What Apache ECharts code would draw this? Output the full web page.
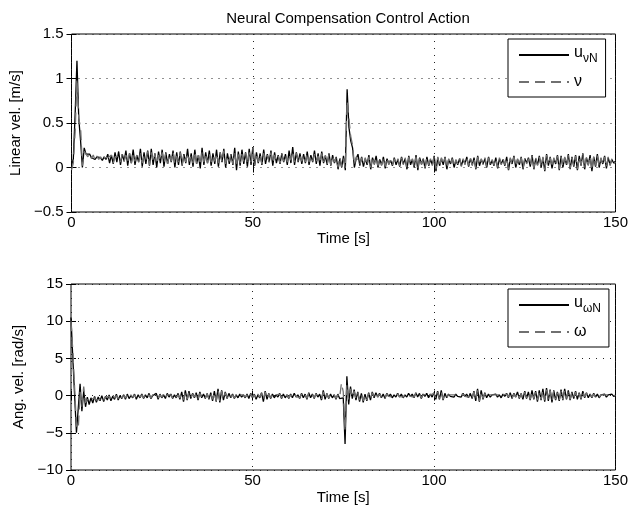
<!DOCTYPE html>
<html>
<head>
<meta charset="utf-8">
<script src="https://cdn.jsdelivr.net/npm/echarts@6/dist/echarts.min.js"></script>
<style>
html,body{margin:0;padding:0;background:#fff;}
#c{width:631px;height:512px;}
</style>
</head>
<body>
<div id="c"></div>
<script>
// sample step [s]
const dt = 0.5;
const xTicks = [0, 50, 100, 150];
const yTicksTop = [-0.5, 0, 0.5, 1, 1.5];
const yTicksBottom = [-10, -5, 0, 5, 10, 15];

// Linear velocity: neural compensation u_vN (solid) and nu (dashed)
const uvN = [
0.02,0.1,0.6,1.2,0.55,0.3,0.0,0.22,0.15,0.14,0.15,0.11,0.13,0.09,0.12,0.1,0.11,0.08,0.12,0.09,
0.15,0.05,0.14,0.04,0.17,0.06,0.18,0.03,0.15,0.07,0.19,0.02,0.16,0.05,0.2,0.03,0.14,0.06,0.21,0.01,
0.17,0.04,0.19,0.02,0.21,0.03,0.16,0.0,0.18,0.05,0.2,0.01,0.17,0.04,0.15,0.06,0.19,0.0,0.17,0.03,
0.18,0.02,0.15,0.05,0.21,0.03,0.16,0.01,0.2,0.04,0.14,-0.01,0.22,0.03,0.17,0.05,0.19,0.02,0.16,0.04,
0.2,0.01,0.17,0.06,0.21,0.0,0.16,0.04,0.15,0.03,0.22,-0.03,0.18,0.02,0.2,0.04,0.17,0.01,0.21,0.03,
0.23,0.02,0.17,0.05,0.16,0.03,0.2,0.04,0.15,0.06,0.19,0.02,0.17,0.05,0.14,0.04,0.16,0.06,0.15,0.03,
0.19,0.05,0.23,0.03,0.17,0.06,0.16,0.04,0.15,0.05,0.18,0.03,0.14,0.06,0.19,0.04,0.16,0.02,0.18,0.05,
0.13,0.03,0.16,0.02,0.14,0.05,0.12,-0.02,0.1,0.0,0.13,-0.03,0.88,0.45,0.3,0.22,0.0,0.1,0.15,0.02,
0.12,0.01,0.1,0.03,0.14,-0.02,0.11,0.04,0.13,0.0,0.09,0.03,0.12,-0.01,0.1,0.04,0.08,0.02,0.11,0.03,
0.09,0.01,0.12,0.04,0.1,-0.02,0.13,0.03,0.09,0.0,0.14,-0.03,0.11,0.04,0.1,-0.01,0.12,0.02,0.09,0.03,
0.13,-0.04,0.11,0.02,0.1,0.03,0.12,-0.02,0.09,0.04,0.11,0.0,0.08,0.03,0.1,0.02,0.09,0.04,0.12,0.01,
0.1,0.03,0.11,-0.02,0.13,0.02,0.09,0.04,0.1,0.0,0.12,0.03,0.08,0.02,0.11,-0.01,0.1,0.04,0.09,0.02,
0.12,-0.03,0.1,0.04,0.13,0.0,0.09,0.03,0.12,-0.02,0.1,0.05,0.11,0.01,0.14,-0.02,0.1,0.03,0.13,0.0,
0.11,-0.04,0.15,0.02,0.12,-0.01,0.1,0.04,0.14,-0.03,0.13,0.0,0.11,0.03,0.15,-0.02,0.12,0.01,0.14,-0.03,
0.13,0.02,0.16,-0.02,0.11,0.03,0.14,-0.04,0.12,0.01,0.15,0.0,0.1,0.04,0.13,-0.01,0.11,0.03,0.09,0.05,
0.07];

const nu = [
-0.03,0.05,0.4,1.0,0.55,0.45,0.02,0.18,0.17,0.12,0.16,0.1,0.14,0.08,0.13,0.09,0.12,0.07,0.11,0.1,
0.11,0.09,0.14,0.05,0.12,0.1,0.13,0.06,0.15,0.07,0.14,0.06,0.16,0.05,0.15,0.07,0.14,0.06,0.16,0.05,
0.13,0.08,0.18,0.03,0.17,0.07,0.15,0.04,0.14,0.08,0.17,0.05,0.16,0.04,0.15,0.07,0.18,0.04,0.13,0.06,
0.17,0.03,0.15,0.06,0.16,0.07,0.13,0.05,0.18,0.04,0.14,0.03,0.17,0.06,0.16,0.05,0.15,0.06,0.13,0.07,
0.16,0.05,0.17,0.06,0.19,0.04,0.13,0.07,0.15,0.04,0.17,0.01,0.18,0.05,0.15,0.07,0.16,0.04,0.17,0.06,
0.22,0.03,0.16,0.06,0.15,0.04,0.16,0.07,0.14,0.06,0.17,0.05,0.14,0.08,0.13,0.05,0.15,0.07,0.14,0.06,
0.15,0.08,0.18,0.06,0.16,0.07,0.13,0.07,0.14,0.06,0.16,0.06,0.13,0.07,0.15,0.07,0.13,0.05,0.16,0.06,
0.14,0.04,0.15,0.03,0.13,0.06,0.11,0.0,0.12,0.01,0.1,-0.01,0.75,0.55,0.35,0.25,0.03,0.12,0.13,0.03,
0.11,0.03,0.11,0.02,0.12,0.0,0.12,0.03,0.11,0.02,0.1,0.02,0.11,0.01,0.11,0.03,0.09,0.03,0.1,0.04,
0.1,0.02,0.11,0.03,0.11,0.0,0.12,0.04,0.1,0.01,0.12,-0.01,0.12,0.03,0.09,0.0,0.11,0.03,0.1,0.02,
0.12,-0.02,0.12,0.01,0.11,0.04,0.11,-0.01,0.1,0.03,0.1,0.01,0.09,0.04,0.11,0.01,0.1,0.03,0.11,0.02,
0.11,0.02,0.1,-0.01,0.12,0.03,0.1,0.03,0.11,0.01,0.11,0.02,0.09,0.03,0.1,0.0,0.11,0.03,0.1,0.03,
0.11,-0.02,0.11,0.03,0.12,0.01,0.1,0.02,0.11,-0.01,0.11,0.04,0.1,0.02,0.13,-0.01,0.11,0.02,0.12,0.01,
0.12,-0.03,0.14,0.03,0.11,0.0,0.11,0.03,0.13,-0.02,0.12,0.01,0.12,0.02,0.14,-0.01,0.11,0.02,0.13,-0.02,
0.12,0.03,0.15,-0.01,0.12,0.02,0.13,-0.03,0.13,0.02,0.14,0.01,0.11,0.03,0.12,0.0,0.12,0.02,0.1,0.04,
0.06];

// Angular velocity: neural compensation u_wN (solid) and omega (dashed)
const uwN = [
10.5,5,0,-5,-5,1.6,-2.1,0.6,-1.5,-0.2,-1.2,-0.3,-1,-0.1,-0.9,-0.2,-0.7,0,-0.8,-0.1,
-0.6,0.1,-0.7,-0.1,-0.5,0.2,-0.6,0,-0.4,0.1,-0.5,0.2,-0.4,0,-0.3,0.2,-0.5,0.1,-0.3,0.2,
-0.4,0.1,-0.3,0.3,-0.4,0,-0.2,0.3,-0.5,0.2,-0.3,0.1,-0.4,0.3,-0.2,0.2,-0.4,0.1,-0.3,0.3,
-0.5,0.5,-0.8,0.7,-0.6,0.6,-0.4,0.3,-0.3,0.4,-0.6,0.5,-0.3,0.2,-0.4,0.3,-0.5,0.4,-0.7,0.6,
-0.8,0.9,-0.9,0.7,-0.6,0.5,-0.4,0.3,-0.3,0.2,-0.4,0.1,-0.3,0.2,-0.2,0.1,-0.3,0.2,-0.4,0.3,
-0.3,0.2,-0.5,0.1,-0.3,0.4,-0.8,0.6,-0.5,0.3,-0.4,0.2,-0.3,0.1,-0.2,0.3,-0.4,0.2,-0.3,0.1,
-0.4,0.2,-0.3,0.3,-0.2,0.1,-0.4,0.3,-0.3,0.2,-0.5,0.4,-0.3,0.2,-0.4,0.3,-0.2,0.2,-0.6,0.7,
-0.5,0.3,-0.4,0.2,-0.3,0.1,-0.5,0.2,-0.4,-0.3,-0.3,-6.5,2.6,-1.2,1.2,-0.4,0.8,-0.6,0.5,-0.8,
0.3,-0.9,0.2,-0.7,0.4,-0.6,0.5,-0.3,0.4,-0.2,0.3,-0.3,0.2,-0.4,0.3,-0.1,0.2,-0.3,0.1,-0.2,
0.3,-0.2,0.2,-0.3,0.1,-0.2,0.3,-0.1,0.2,-0.3,0.4,-0.2,0.3,-0.4,0.2,-0.1,0.3,-0.3,0.2,-0.2,
0.4,-0.5,0.6,-0.5,0.7,-0.6,0.3,-0.3,0.2,-0.1,0.1,-0.2,0.2,-0.1,0.1,-0.2,0.3,-0.1,0.2,-0.3,
0.3,-0.4,0.6,-0.7,0.9,-0.8,0.7,-0.5,0.4,-0.3,0.2,-0.2,0.1,-0.1,0.2,-0.2,0.1,-0.3,0.2,-0.1,
0.3,-0.3,0.4,-0.4,0.3,-0.2,0.5,-0.4,0.3,-0.5,0.6,-0.4,0.5,-0.6,0.7,-0.5,0.6,-0.8,0.7,-0.6,
0.9,-0.8,1.0,-0.7,0.8,-0.9,0.7,-0.6,0.5,-0.7,0.8,-0.6,0.9,-0.5,0.7,-0.6,0.5,-0.4,0.6,-0.5,
0.4,-0.5,0.6,-0.3,0.4,-0.3,0.2,-0.3,0.3,-0.2,0.2,-0.3,0.1,-0.1,0.2,-0.2,0.1,-0.1,0.2,-0.1,
0];

const omega = [
10,6,1,-4,-4.5,0.5,-1.5,1.2,-1,-0.5,-0.8,-0.5,-0.7,-0.3,-0.6,-0.4,-0.5,-0.2,-0.6,-0.2,
-0.4,-0.1,-0.5,0.1,-0.3,0,-0.4,0.1,-0.3,0,-0.3,0.1,-0.3,0.1,-0.2,0.1,-0.3,0.1,-0.2,0.1,
-0.3,0.2,-0.2,0.1,-0.3,0.1,-0.1,0.2,-0.3,0.1,-0.2,0.2,-0.3,0.1,-0.1,0.1,-0.3,0.2,-0.2,0.1,
-0.3,0.3,-0.6,0.5,-0.5,0.4,-0.3,0.2,-0.2,0.3,-0.4,0.3,-0.2,0.1,-0.3,0.2,-0.4,0.3,-0.5,0.4,
-0.7,0.7,-0.7,0.6,-0.5,0.4,-0.3,0.2,-0.2,0.1,-0.3,0.1,-0.2,0.1,-0.1,0.1,-0.2,0.1,-0.3,0.2,
-0.2,0.1,-0.4,0.2,-0.2,0.3,-0.6,0.5,-0.4,0.2,-0.3,0.1,-0.2,0.1,-0.1,0.2,-0.3,0.1,-0.2,0.1,
-0.3,0.1,-0.2,0.2,-0.1,0.1,-0.3,0.2,-0.2,0.1,-0.4,0.3,-0.2,0.1,-0.3,0.2,-0.1,0.1,-0.5,0.5,
-0.4,0.2,-0.3,0.1,-0.2,0.1,-0.4,0.1,-0.3,1.7,0.5,-4.8,1.5,-0.5,0.9,-0.2,0.6,-0.4,0.4,-0.6,
0.2,-0.7,0.1,-0.6,0.3,-0.5,0.4,-0.2,0.3,-0.2,0.2,-0.2,0.1,-0.3,0.2,-0.1,0.1,-0.2,0.1,-0.1,
0.2,-0.1,0.1,-0.2,0.1,-0.1,0.2,-0.1,0.1,-0.2,0.3,-0.1,0.2,-0.3,0.1,-0.1,0.2,-0.2,0.1,-0.1,
0.3,-0.4,0.5,-0.4,0.5,-0.5,0.2,-0.2,0.1,-0.1,0.1,-0.1,0.1,-0.1,0.1,-0.1,0.2,-0.1,0.1,-0.2,
0.2,-0.3,0.5,-0.6,0.7,-0.7,0.5,-0.4,0.3,-0.2,0.1,-0.1,0.1,-0.1,0.1,-0.1,0.1,-0.2,0.1,-0.1,
0.2,-0.2,0.3,-0.3,0.2,-0.2,0.4,-0.3,0.2,-0.4,0.5,-0.3,0.4,-0.5,0.5,-0.4,0.5,-0.6,0.5,-0.5,
0.7,-0.6,0.8,-0.6,0.7,-0.7,0.6,-0.5,0.4,-0.6,0.6,-0.5,0.7,-0.4,0.6,-0.5,0.4,-0.3,0.5,-0.4,
0.3,-0.4,0.5,-0.2,0.3,-0.2,0.2,-0.2,0.2,-0.2,0.1,-0.2,0.1,-0.1,0.1,-0.1,0.1,-0.1,0.1,-0.1,
0];

const pairs = arr => arr.map((v, i) => [i * dt, v]);
const FONT = 'Liberation Sans';
const minus = v => String(v).replace('-', '\u2212');

const grids = [
  {left: 71, top: 34, width: 545, height: 178},
  {left: 71, top: 284, width: 545, height: 186}
];

function xAx(g, top, gap) {
  return {
    type: 'value', gridIndex: g, min: xTicks[0], max: xTicks[xTicks.length - 1], interval: 50,
    position: top ? 'top' : 'bottom',
    axisLine: {show: false},
    axisTick: {show: true, inside: true, length: 5, lineStyle: {color: '#000'}},
    axisLabel: {show: !top, margin: 3, color: '#000', fontFamily: FONT, fontSize: 15, formatter: minus},
    splitLine: {show: !top, lineStyle: {color: '#222', type: [1, 6], width: 1}},
    name: top ? '' : 'Time [s]', nameLocation: 'middle', nameGap: gap,
    nameTextStyle: {color: '#000', fontFamily: FONT, fontSize: 15}
  };
}
function yAx(g, right, ticks, name) {
  return {
    type: 'value', gridIndex: g, min: ticks[0], max: ticks[ticks.length - 1], interval: ticks[1] - ticks[0],
    position: right ? 'right' : 'left',
    axisLine: {show: false},
    axisTick: {show: true, inside: true, length: 5, lineStyle: {color: '#000'}},
    axisLabel: {show: !right, margin: 8, color: '#000', fontFamily: FONT, fontSize: 15, formatter: minus},
    splitLine: {show: !right, lineStyle: {color: '#222', type: [1, 6], width: 1}},
    name: right ? '' : name, nameLocation: 'middle', nameGap: 44, nameRotate: 90,
    nameTextStyle: {color: '#000', fontFamily: FONT, fontSize: 15}
  };
}

const legendNames = {
  'uvN': '{u|u}{s|\u03bdN}',
  'nu': '{g|\u03bd}',
  'uwN': '{u|u}{s|\u03c9N}',
  'omega': '{g|\u03c9}'
};
function legendOf(top, data) {
  return {
    data: data, left: 508, top: top, orient: 'vertical',
    backgroundColor: '#fff', borderColor: '#000', borderWidth: 1, borderRadius: 0,
    padding: [3, 8, 7, 10], itemGap: 6, itemWidth: 50, itemHeight: 14,
    selectedMode: false,
    itemStyle: {color: 'rgba(0,0,0,0)', borderColor: 'rgba(0,0,0,0)', borderWidth: 0},
    formatter: n => legendNames[n],
    textStyle: {
      color: '#000', fontFamily: FONT,
      rich: {
        u: {fontSize: 16, lineHeight: 16, padding: [3, 0, 7, 0], fontFamily: FONT, color: '#000'},
        s: {fontSize: 12, lineHeight: 12, padding: [11, 0, 3, 0], fontFamily: FONT, color: '#000'},
        g: {fontSize: 16, lineHeight: 16, fontFamily: FONT, color: '#000'}
      }
    }
  };
}

function line(name, data, xi, yi, color, dash) {
  return {
    name: name, type: 'line', xAxisIndex: xi, yAxisIndex: yi, data: pairs(data),
    showSymbol: false, symbol: 'none', animation: false,
    lineStyle: {color: color, width: 1.3, type: dash ? [10, 6] : 'solid'},
    itemStyle: {color: color}
  };
}

const chart = echarts.init(document.getElementById('c'), null, {renderer: 'canvas'});
chart.setOption({
  backgroundColor: '#fff',
  animation: false,
  title: {
    text: 'Neural Compensation Control Action', left: 343, top: 6, textAlign: 'center',
    textStyle: {color: '#000', fontFamily: FONT, fontSize: 15, fontWeight: 'normal'}
  },
  grid: grids.map(g => Object.assign({show: true, borderColor: '#000', borderWidth: 1, backgroundColor: 'transparent'}, g)),
  xAxis: [xAx(0, false, 14), xAx(0, true, 0), xAx(1, false, 20), xAx(1, true, 0)],
  yAxis: [yAx(0, false, yTicksTop, 'Linear vel. [m/s]'), yAx(0, true, yTicksTop, ''),
          yAx(1, false, yTicksBottom, 'Ang. vel. [rad/s]'), yAx(1, true, yTicksBottom, '')],
  legend: [legendOf(39, ['uvN', 'nu']), legendOf(289, ['uwN', 'omega'])],
  series: [
    line('uvN', uvN, 0, 0, '#000', false),
    line('nu', nu, 0, 0, '#707070', true),
    line('uwN', uwN, 2, 2, '#000', false),
    line('omega', omega, 2, 2, '#707070', true)
  ]
});
</script>
</body>
</html>
